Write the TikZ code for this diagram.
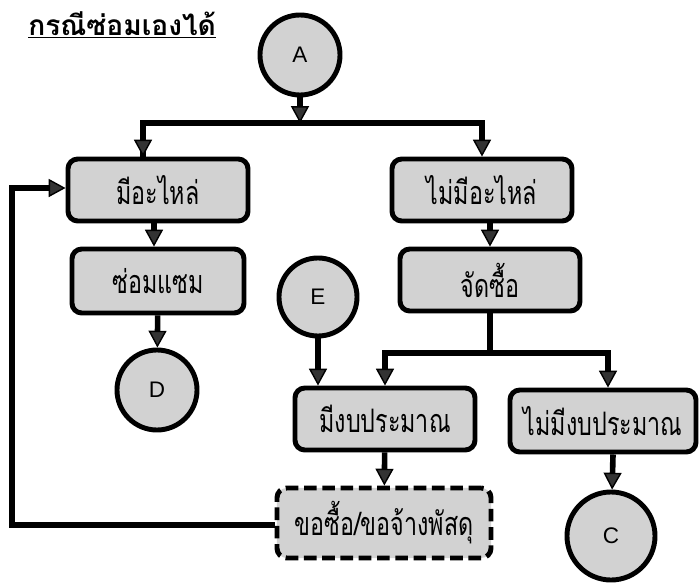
\documentclass[tikz,border=0pt]{standalone}
\usepackage{fontspec}
\setmainfont{Liberation Sans}
\newfontfamily\thaifont[Script=Thai,FakeStretch=0.72]{Loma}
\newfontfamily\thaititle[Script=Thai]{Loma}
\usetikzlibrary{arrows.meta}

\begin{document}
\begin{tikzpicture}[x=0.025cm,y=-0.025cm,
    box/.style={draw,line width=3.5pt,rounded corners=7pt,fill=gray!35,
        minimum width=4.5cm,minimum height=1.55cm,inner sep=2pt,
        font=\thaifont\fontsize{23}{26}\selectfont},
    conn/.style={draw,circle,line width=3.5pt,fill=gray!35,minimum size=2cm,
        font=\fontsize{16}{19}\selectfont},
    flow/.style={line width=4pt,
        -{Triangle[length=0.42cm,width=0.45cm,fill=black!80,line width=1pt]}},
    link/.style={line width=4pt}]
    \useasboundingbox (0,0) rectangle (699,585);

    \node[anchor=base west,inner sep=0pt,font=\thaititle\bfseries\fontsize{20}{24}\selectfont] (title) at (28,35) {\underline{กรณีซ่อมเองได้}};

    \node[conn] (A) at (300,55) {A};
    \node[box] (spare) at (158,190) {มีอะไหล่};
    \node[box] (nospare) at (482,190) {ไม่มีอะไหล่};
    \node[box,minimum width=4.3cm,minimum height=1.6cm] (repair) at (158,281) {ซ่อมแซม};
    \node[box] (buy) at (490,280) {จัดซื้อ};
    \node[conn] (D) at (157,390) {D};
    \node[conn,minimum size=1.95cm] (E) at (318,297) {E};
    \node[box] (budget) at (385,419) {มีงบประมาณ};
    \node[box,minimum width=4.65cm] (nobudget) at (603,421) {ไม่มีงบประมาณ};
    \node[box,dashed,dash pattern=on 9pt off 4pt,minimum width=5.35cm,minimum height=1.75cm] (request) at (384,523) {ขอซื้อ/ขอจ้างพัสดุ};
    \node[conn,minimum size=2.2cm] (C) at (611,536) {C};

    % branch points
    \coordinate (split1) at (300,123);
    \coordinate (split2) at (490,353);
    \coordinate (back1) at (12,525);
    \coordinate (back2) at (12,188);

    \draw[flow] (A) -- (split1);
    \draw[link] (split1) -| ([xshift=-0.375cm]spare.north);
    \draw[flow] ([xshift=-0.375cm]spare.north |- split1) -- ([xshift=-0.375cm]spare.north);
    \draw[flow] (split1) -| (nospare);
    \draw[flow] ([xshift=-0.1cm]spare.south) -- ([xshift=-0.1cm]repair.north);
    \draw[flow] (repair) -- (D);
    \draw[flow] (buy.north |- nospare.south) -- (buy.north);
    \draw[link] (buy) -- (split2);
    \draw[flow] (split2) -| (budget);
    \draw[flow] (split2) -| ([xshift=0.125cm]nobudget.north);
    \draw[flow] (E) -- (E |- budget.north);
    \draw[flow] (budget) -- (request);
    \draw[flow] ([xshift=0.25cm]nobudget.south) -- (C);
    \draw[flow] (request.west |- back1) -- (back1) -- (back2) -- (spare.west |- back2);
\end{tikzpicture}
\end{document}
